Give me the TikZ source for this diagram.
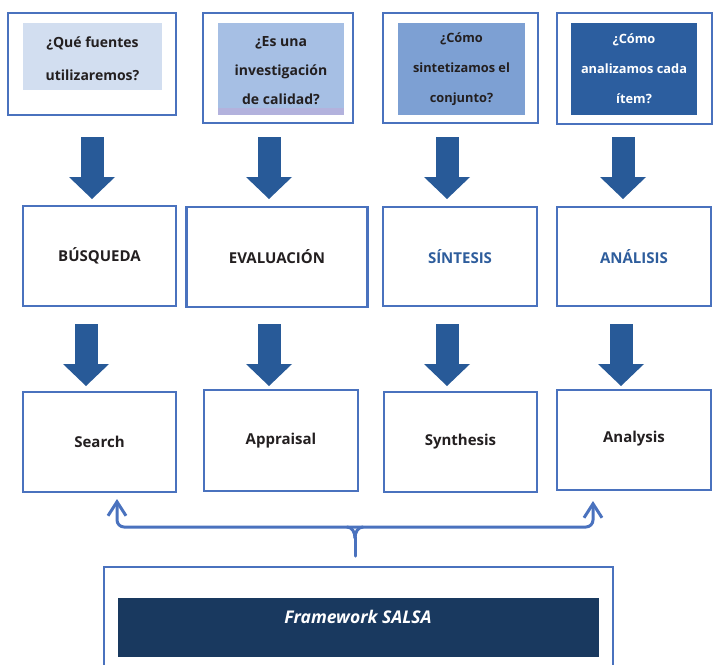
\documentclass[tikz,border=0pt]{standalone}
\usepackage{fontspec}
\setmainfont{Open Sans}
\usetikzlibrary{arrows.meta}
\definecolor{frame}{HTML}{4A72BE}
\definecolor{arr}{HTML}{285A98}
\definecolor{qa}{HTML}{D2DEF0}
\definecolor{qb}{HTML}{A6BFE4}
\definecolor{qbs}{HTML}{B3B2DD}
\definecolor{qc}{HTML}{7DA0D3}
\definecolor{qd}{HTML}{2C5E9F}
\definecolor{dark}{HTML}{19395F}
\definecolor{txt}{HTML}{231F20}
\definecolor{btxt}{HTML}{2E5D9C}
\begin{document}
\begin{tikzpicture}[x=1pt,y=-1pt,
  frm/.style={draw=frame,line width=2.7pt,inner sep=0pt,outer sep=0pt},
  inr/.style={inner sep=0pt,outer sep=0pt,align=center,text=txt},
  fa/.style={font=\fontsize{14}{33}\selectfont\bfseries},
  fb/.style={font=\fontsize{14}{29}\selectfont\bfseries},
  fc/.style={font=\fontsize{12.8}{30}\selectfont\bfseries},
  fm/.style={font=\fontsize{15}{18}\selectfont\bfseries},
  blk/.style={draw=arr,line width=23pt,-{Triangle[width=46pt,length=22pt,line width=0pt]}},
  brk/.style={draw=frame,line width=3pt,line cap=round,line join=round}]
\useasboundingbox (0,0) rectangle (714,664);
\clip (0,0) rectangle (714,664);
% top row
\node[frm,minimum width=168,minimum height=102] (q1) at (92,64) {};
\node[inr,fill=qa,minimum width=139,minimum height=67] (q1i) at (92.5,56.5) {};
\node[inr,fa] (q1t) at (92.5,58.5) {¿Qué fuentes\\utilizaremos?};
\node[frm,minimum width=150,minimum height=110] (q2) at (278,68) {};
\node[inr,fill=qb,minimum width=126,minimum height=92] (q2i) at (281,69) {};
\fill[qbs] (q2i.south west) rectangle ([yshift=7pt]q2i.south east);
\node[inr,fb] (q2t) at (281,71) {¿Es una\\investigación\\de calidad?};
\node[frm,minimum width=155,minimum height=110] (q3) at (460.5,68) {};
\node[inr,fc,fill=qc,minimum width=127,minimum height=92] (q3i) at (461.5,69) {¿Cómo\\sintetizamos el\\conjunto?};
\node[frm,minimum width=155,minimum height=111] (q4) at (634.5,68.5) {};
\node[inr,fc,fill=qd,text=white,minimum width=126,minimum height=92] (q4i) at (634,69) {¿Cómo\\analizamos cada\\ítem?};
% middle row
\node[frm,inr,fm,minimum width=153,minimum height=100] (m1) at (99.5,256) {BÚSQUEDA};
\node[frm,inr,fm,minimum width=181,minimum height=100] (m2) at (277,257) {EVALUACIÓN};
\node[frm,inr,fm,text=btxt,minimum width=154,minimum height=99] (m3) at (460,256.5) {SÍNTESIS};
\node[frm,inr,fm,text=btxt,minimum width=154,minimum height=99] (m4) at (634,256.5) {ANÁLISIS};
% bottom row
\node[frm,inr,fm,minimum width=153,minimum height=100] (b1) at (99.5,442) {Search};
\node[frm,inr,fm,minimum width=154,minimum height=101] (b2) at (281,440.5) {Appraisal};
\node[frm,inr,fm,minimum width=153,minimum height=100] (b3) at (460.5,442) {Synthesis};
\node[frm,minimum width=154,minimum height=100] (b4) at (634,440) {};
\node[inr,fm] (b4t) at (634,439) {Analysis};
% block arrows
\foreach \n/\x in {1/92,2/269,3/447,4/623} {
  \coordinate (u\n) at (\x,137); \coordinate (v\n) at (\x,199);
  \draw[blk] (u\n) -- (v\n);
}
\foreach \n/\x in {1/86,2/269,3/447,4/621} {
  \coordinate (s\n) at (\x,324); \coordinate (t\n) at (\x,386);
  \draw[blk] (s\n) -- (t\n);
}
% framework
\node[frm,minimum width=509,minimum height=110,anchor=north] (fw) at (358.5,567) {};
\node[inr,fill=dark,minimum width=481,minimum height=59] (fwi) at (358.5,627.5) {};
\node[inr,text=white,font=\fontsize{17.5}{20}\selectfont\bfseries\itshape] (fwt) at (358,617) {Framework SALSA};
% bracket
\coordinate (bl) at (117,499);
\coordinate (br) at (593,501);
\coordinate (stem) at (355,556);
\draw[brk,rounded corners=7pt,{Straight Barb[length=14pt,width=18pt]}-{Straight Barb[length=14pt,width=18pt]}] (bl) -- (117,527) -- (593,527) -- (br);
\draw[brk] (stem) -- (355,537);
\draw[brk] (355,538) to[out=90,in=0] (347,527);
\draw[brk] (355,538) to[out=90,in=180] (363,527);
\end{tikzpicture}
\end{document}
